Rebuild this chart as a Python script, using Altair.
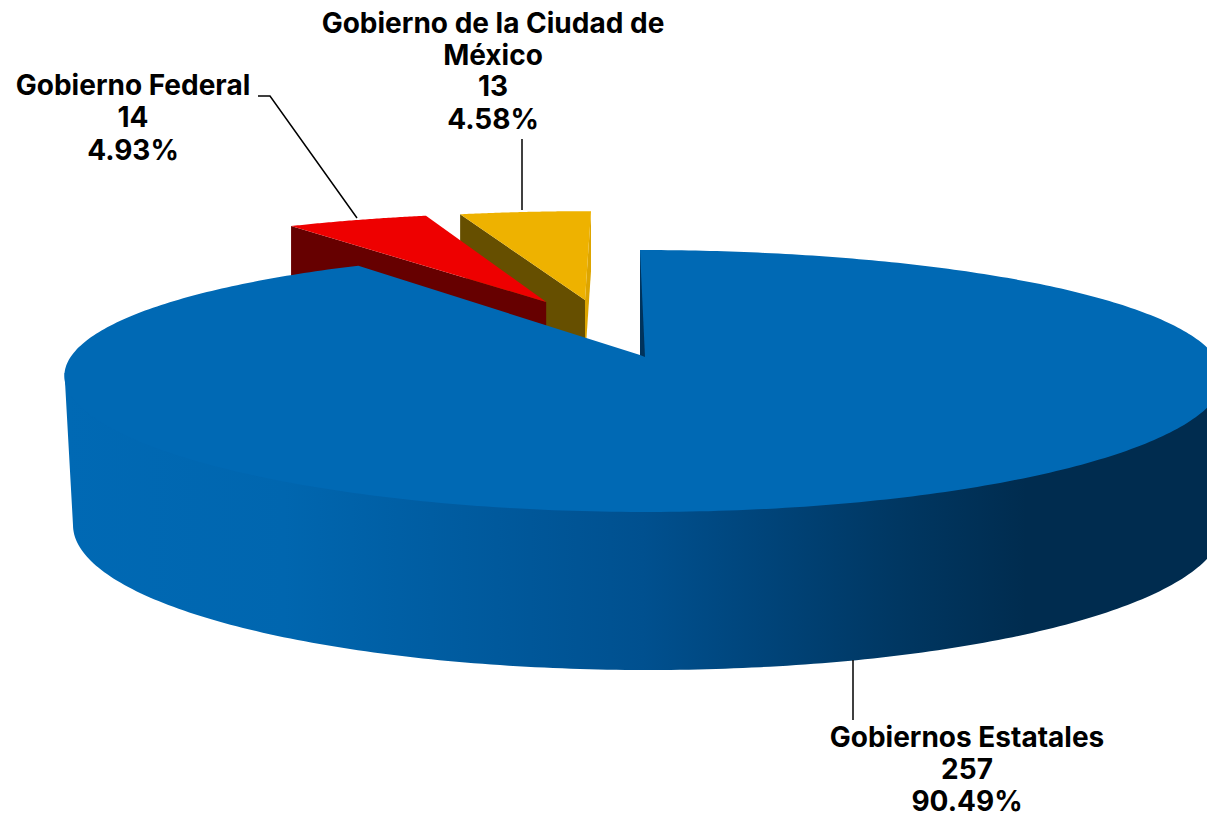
import numpy as np
import pandas as pd
import altair as alt

categories = ["Gobiernos Estatales", "Gobierno Federal", "Gobierno de la Ciudad de México"]
counts = [257, 14, 13]
percents = ["90.49%", "4.93%", "4.58%"]

TOP = "#0069B4"
RED = "#EE0000"; RED_D = "#660000"
YEL = "#EEB200"; YEL_D = "#664F00"; YEL_S = "#DDA500"
STRIP = "#00335C"

x_s = alt.Scale(domain=[8, 1207], range=[0, 1199])
y_s = alt.Scale(domain=[8, 808], range=[0, 800])

A, B, KX, KY, X0, Y0 = 571.0, 125.8, 0.167, 0.1985, 640.0, 355.0

def proj(u, v):
    u = np.asarray(u, float); v = np.asarray(v, float)
    x = X0 + 3 * (1 - v) * (np.abs(v) <= 1.0001) + A * u / (1 + KX * v)
    y = Y0 - B * v / (1 + KY * v)
    return x, y

def poly(x, y, **kw):
    d = pd.DataFrame({"x": x, "y": y, "i": np.arange(len(x))})
    base = dict(strokeOpacity=0, clip=True, interpolate="linear")
    base.update(kw)
    return alt.Chart(d).mark_line(**base).encode(
        x=alt.X("x:Q", scale=x_s, axis=None),
        y=alt.Y("y:Q", scale=y_s, axis=None),
        order="i:Q",
    )

def stroke_line(x, y):
    d = pd.DataFrame({"x": x, "y": y, "i": np.arange(len(x))})
    return alt.Chart(d).mark_line(color="#000000", strokeWidth=1.5).encode(
        x=alt.X("x:Q", scale=x_s, axis=None),
        y=alt.Y("y:Q", scale=y_s, axis=None),
        order="i:Q",
    )

total = sum(counts)
edges = np.cumsum([0] + counts) / total * 2 * np.pi

def wedge(a0, a1, ou, ov):
    t = np.linspace(a0, a1, 60)
    ox, oy = proj(np.sin(t) + ou, np.cos(t) + ov)
    ax, ay = proj([ou], [ov])
    return ax[0], ay[0], ox, oy

DEPTH = 60
layers = []

# Ciudad de Mexico slice
ax, ay, ox, oy = wedge(edges[2], edges[3], -0.107, 0.479)
layers.append(poly([ox[0], ox[0], ax, ax], [oy[0], oy[0] + DEPTH, ay + DEPTH, ay], fill=YEL_D))
layers.append(poly([ax, ax, ox[-1], ox[-1]], [ay, ay + DEPTH, oy[-1] + DEPTH, oy[-1]], fill=YEL_S))
layers.append(poly(np.r_[ax, ox], np.r_[ay, oy], fill=YEL))

# Gobierno Federal slice
ax, ay, ox, oy = wedge(edges[1], edges[2], -0.18, 0.46)
layers.append(poly([ox[0], ox[0], ax, ax], [oy[0], oy[0] + DEPTH + 20, ay + DEPTH, ay], fill=RED_D))
layers.append(poly(np.r_[ax, ox], np.r_[ay, oy], fill=RED))

# Main slice: outer wall (upper edge tucked under the top face to avoid a seam)
t = np.linspace(np.radians(98), np.radians(262), 200)
tx, ty = proj(np.sin(t), np.cos(t))
ix, iy = proj(0.985 * np.sin(t), 0.985 * np.cos(t))
phi = np.linspace(np.radians(270), np.radians(90), 200)
bx = 648 + 575 * np.sin(phi)
by = 525 - 145 * np.cos(phi)
wall_fill = alt.Gradient(
    gradient="linear", x1=0, x2=1, y1=0, y2=0,
    stops=[
        alt.GradientStop(offset=0.0, color="#0069B4"),
        alt.GradientStop(offset=0.19, color="#0066AF"),
        alt.GradientStop(offset=0.50, color="#00508F"),
        alt.GradientStop(offset=0.72, color="#003762"),
        alt.GradientStop(offset=0.83, color="#002C4F"),
        alt.GradientStop(offset=1.0, color="#002C4F"),
    ],
)
layers.append(poly(np.r_[tx[0], ix, tx[-1], bx], np.r_[ty[0], iy, ty[-1], by], fill=wall_fill))

# Main slice: top face
t = np.linspace(edges[0], edges[1], 400)
tx, ty = proj(np.sin(t), np.cos(t))
layers.append(poly(np.r_[X0, tx], np.r_[Y0, ty], fill=TOP))
layers.append(poly([tx[0], X0 + 5, X0], [ty[0], Y0 + 2, Y0], fill=STRIP))

# Leader lines
layers.append(stroke_line([258, 270, 357], [96, 96, 218]))
layers.append(stroke_line([522, 522], [139, 210]))
layers.append(stroke_line([853, 853], [660, 720]))

# Labels
rows = [
    (967, 739, categories[0]), (967, 771, str(counts[0])), (967, 803, percents[0]),
    (133, 87, categories[1]), (133, 119, str(counts[1])), (133, 152, percents[1]),
    (493, 25, "Gobierno de la Ciudad de"), (493, 57, "México"),
    (493, 88, str(counts[2])), (493, 121, percents[2]),
]
labels = pd.DataFrame(rows, columns=["x", "y", "t"])
layers.append(
    alt.Chart(labels).mark_text(
        font="Inter", fontWeight=700, fontSize=28, color="#000000",
        align="center", baseline="middle",
    ).encode(
        x=alt.X("x:Q", scale=x_s, axis=None),
        y=alt.Y("y:Q", scale=y_s, axis=None),
        text="t:N",
    )
)

chart = alt.layer(*layers).properties(width=1199, height=800, padding=0).configure_view(stroke=None)
chart.save("out.html", embed_options={"renderer": "svg", "actions": False})
